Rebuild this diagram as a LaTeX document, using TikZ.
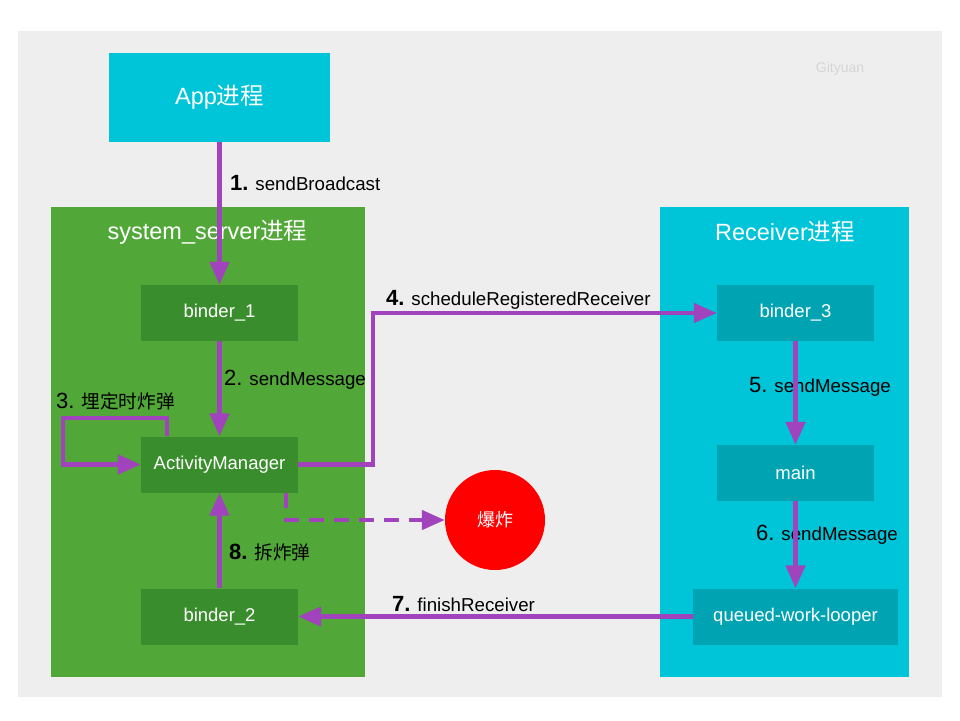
\documentclass[tikz,border=0pt]{standalone}
\usepackage{fontspec}
\setmainfont{Liberation Sans}
\newfontfamily\cjk{Noto Sans CJK SC}
\usetikzlibrary{arrows.meta}
\definecolor{bggray}{HTML}{EEEEEE}
\definecolor{cyanbox}{HTML}{00C4D8}
\definecolor{greenbox}{HTML}{51A737}
\definecolor{dkgreen}{HTML}{3A8D2C}
\definecolor{dkcyan}{HTML}{00A3B2}
\definecolor{arrpurple}{HTML}{A043BD}
\definecolor{wmgray}{HTML}{D5D5D5}
\newcommand\bnum[1]{{\fontsize{22}{26}\selectfont\bfseries #1}}
\newcommand\pnum[1]{{\fontsize{22}{26}\selectfont #1}}
\begin{document}
\begin{tikzpicture}[x=1pt,y=-1pt,
  box/.style={rectangle, inner sep=0pt, minimum width=157pt, minimum height=56pt, text=white, font=\fontsize{18.5}{22}\selectfont},
  gbox/.style={box, fill=dkgreen},
  cbox/.style={box, fill=dkcyan},
  container/.style={rectangle, inner sep=0pt, minimum height=470pt},
  ttl/.style={text=white, inner sep=0pt, font=\fontsize{23.5}{27}\selectfont},
  arr/.style={-{Triangle[length=23pt,width=19pt]}, line width=4.5pt, draw=arrpurple},
  darr/.style={arr, dash pattern=on 15pt off 10pt},
  lbl/.style={anchor=west, inner sep=0pt, font=\fontsize{18.7}{22}\selectfont}]
\useasboundingbox (0,0) rectangle (960,720);
\fill[white] (0,0) rectangle (960,720);
\fill[bggray] (18,31) rectangle (942,697);
\node[text=wmgray, font=\fontsize{14}{16}\selectfont] (wm) at (840,69) {Gityuan};
% App
\node[rectangle, fill=cyanbox, minimum width=221pt, minimum height=89pt, inner sep=0pt] (app) at (219.5,97.5) {};
\node[ttl] (appt) at (app.center) {App{\cjk 进程}};
% containers
\node[container, fill=greenbox, minimum width=314pt] (sys) at (208,442) {};
\node[ttl] (syst) at (207.5,232) {system\_server{\cjk 进程}};
\node[container, fill=cyanbox, minimum width=249pt] (rec) at (784.5,442) {};
\node[ttl] (rect) at (785,232) {Receiver{\cjk 进程}};
% inner boxes
\node[gbox] (b1) at (219.5,313) {binder\_1};
\node[gbox] (am) at (219.5,464.5) {ActivityManager};
\node[gbox] (b2) at (219.5,616.5) {binder\_2};
\node[cbox] (b3) at (795.5,313) {binder\_3};
\node[cbox] (main) at (795.5,473) {main};
\node[cbox, minimum width=205pt] (qwl) at (795.5,616.5) {queued-work-looper};
\node[circle, fill=red, minimum size=100pt, inner sep=0pt, text=white, font=\fontsize{18}{22}\selectfont\cjk] (boom) at (495,520) {爆炸};
% labels
\node[lbl] (l1) at (230,183) {\bnum{1.} sendBroadcast};
\node[lbl] (l2) at (224,380) {\pnum{2.} sendMessage};
\node[lbl] (l3) at (56,401) {\pnum{3.} {\cjk 埋定时炸弹}};
\node[lbl] (l4) at (386,300) {\bnum{4.} scheduleRegisteredReceiver};
\node[lbl] (l5) at (749,387) {\pnum{5.} sendMessage};
\node[lbl] (l6) at (756,535) {\pnum{6.} sendMessage};
\node[lbl] (l7) at (392,604) {\bnum{7.} finishReceiver};
\node[lbl] (l8) at (229,552) {\bnum{8.} {\cjk 拆炸弹}};
% connectors
\coordinate (k3) at (63,418);
\coordinate (k4) at (373,313);
\draw[arr] (app.south) -- (b1.north);
\draw[arr] (b1.south) -- (am.north);
\draw[arr] ([xshift=-52.5pt]am.north) |- (k3) |- (am.west);
\draw[arr] (am.east) -| (k4) -- (b3.west);
\draw[arr] (b3.south) -- (main.north);
\draw[arr] (main.south) -- (qwl.north);
\draw[arr] (qwl.west) -- (b2.east);
\draw[arr] (b2.north) -- (am.south);
\draw[darr] ([xshift=66.5pt]am.south) |- (boom.west);
\end{tikzpicture}
\end{document}
